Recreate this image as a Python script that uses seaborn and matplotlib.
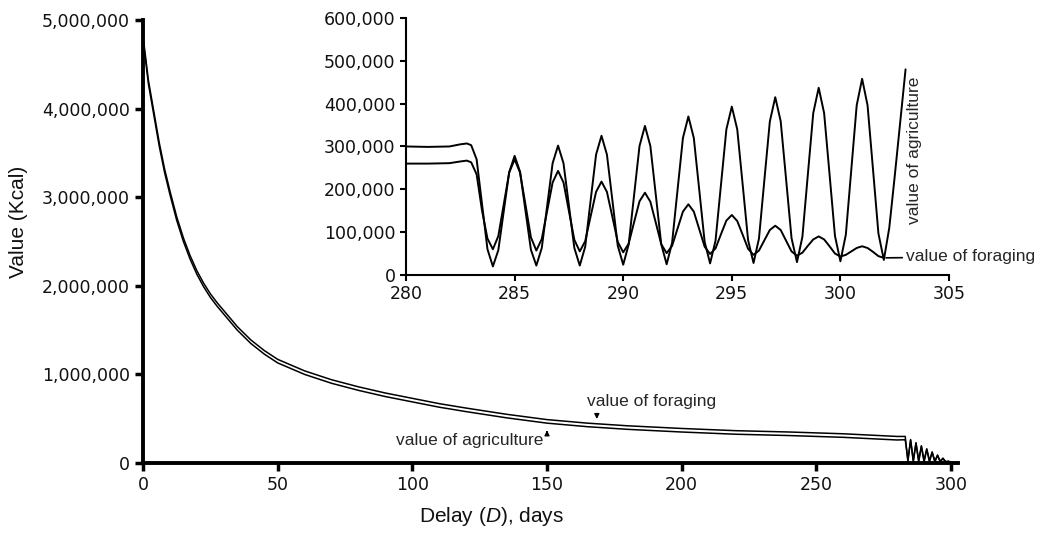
import numpy as np
import matplotlib
matplotlib.use("Agg")
import matplotlib.pyplot as plt
from matplotlib.ticker import FuncFormatter
import seaborn as sns

# main panel: delay (days) vs value (Kcal)
main_days = [0, 2, 4, 6, 8, 10, 12.5, 15, 17.5, 20, 22.5, 25, 27.5, 30, 35, 40, 45, 50,
             60, 70, 80, 90, 100, 110, 120, 135, 150, 165, 180, 200, 220, 240, 260, 280,
             282, 283, 284, 285, 286, 287, 288, 289, 290, 291, 292, 293, 294, 295, 296,
             297, 298, 299, 300]
agri_main = [4820, 4320, 3970, 3620, 3320, 3070, 2780, 2540, 2340, 2170, 2030, 1910, 1810,
             1720, 1540, 1390, 1270, 1170, 1040, 940, 860, 790, 730, 670, 620, 550, 490,
             450, 420, 390, 365, 350, 330, 300, 300, 300,
             15, 265, 12, 230, 10, 195, 10, 160, 10, 125, 8, 90, 8, 55, 6, 20, 5]
forage_main = [4780, 4280, 3930, 3580, 3280, 3030, 2740, 2500, 2300, 2130, 1990, 1870, 1770,
               1680, 1500, 1350, 1230, 1130, 1000, 900, 820, 750, 690, 630, 580, 510, 450,
               410, 380, 350, 325, 310, 290, 260, 262, 262,
               40, 255, 35, 222, 32, 188, 30, 155, 28, 120, 25, 86, 22, 52, 18, 20, 10]
agri_main = [v * 1000 for v in agri_main]
forage_main = [v * 1000 for v in forage_main]

# inset: close-up of days 280-303
inset_flat_days = [280, 281, 282, 282.5, 282.8]
agri_flat = [300, 299, 300, 305, 307]
forage_flat = [260, 260, 261, 265, 267]
agri_osc = [303, 270, 165, 60,
            20, 58, 149, 240, 278, 241, 150, 59,
            22, 63, 162, 261, 302, 261, 162, 63,
            22, 66, 174, 281, 325, 281, 175, 68,
            24, 71, 186, 301, 348, 301, 187, 72,
            25, 75, 198, 320, 370, 320, 199, 77,
            27, 80, 210, 340, 393, 340, 211, 81,
            28, 85, 222, 358, 415, 359, 223, 86,
            30, 89, 234, 378, 437, 378, 235, 91,
            32, 94, 245, 396, 458, 396, 247, 97,
            35, 110, 230, 355, 480]
forage_osc = [263, 235, 150, 85,
              60, 91, 165, 239, 270, 239, 164, 88,
              57, 84, 150, 216, 243, 216, 149, 82,
              55, 79, 137, 194, 218, 194, 136, 77,
              53, 73, 123, 172, 192, 171, 122, 72,
              51, 68, 108, 148, 165, 148, 107, 66,
              49, 62, 95, 127, 140, 126, 94, 61,
              47, 57, 81, 105, 115, 105, 80, 55,
              45, 52, 68, 83, 90, 83, 67, 50,
              43, 47, 55, 63, 67, 63, 54, 44,
              40]
agri_days = inset_flat_days + list(283 + 0.25 * np.arange(len(agri_osc)))
forage_days = inset_flat_days + list(283 + 0.25 * np.arange(len(forage_osc)))
agri_inset = [v * 1000 for v in agri_flat + agri_osc]
forage_inset = [v * 1000 for v in forage_flat + forage_osc]

sns.set_style("ticks")
plt.rcParams['font.family'] = ['DejaVu Sans']
plt.rcParams['mathtext.fontset'] = 'custom'
plt.rcParams['mathtext.rm'] = 'Liberation Sans'
plt.rcParams['mathtext.it'] = 'Liberation Sans:italic'
lab = 'Liberation Sans'
comma = FuncFormatter(lambda v, p: f'{int(round(v)):,}')

fig = plt.figure(figsize=(10.47, 5.33), dpi=100)
ax = fig.add_axes([0.1366, 0.1313, 0.7784, 0.8311])
sns.lineplot(x=main_days, y=agri_main, ax=ax, color='black', lw=1.1, estimator=None, sort=False)
sns.lineplot(x=main_days, y=forage_main, ax=ax, color='black', lw=1.1, estimator=None, sort=False)
ax.set_xlim(0, 302.6)
ax.set_ylim(0, 5000000)
ax.set_xticks(np.arange(0, 301, 50))
ax.set_yticks(np.arange(0, 5000001, 1000000))
ax.yaxis.set_major_formatter(comma)
ax.tick_params(labelsize=12.5, width=2.5, length=6, color='black', labelcolor='#111111')
for s in ['top', 'right']:
    ax.spines[s].set_visible(False)
for s in ['left', 'bottom']:
    ax.spines[s].set_linewidth(2.8)
    ax.spines[s].set_color('black')
ax.set_xlabel('Delay ($D$), days', fontsize=15, family=lab, color='#111111')
ax.set_ylabel('Value (Kcal)', fontsize=15, family=lab, color='#111111')
ax.xaxis.set_label_coords(0.428, -0.095)
ax.yaxis.set_label_coords(-0.141, 0.544)

ax.text(165, 690000, 'value of foraging', fontsize=12.5, family=lab, va='center')
ax.annotate('', xy=(168.5, 465000), xytext=(168.5, 570000),
            arrowprops=dict(arrowstyle='-|>', color='black', lw=1, mutation_scale=7))
ax.text(94, 250000, 'value of agriculture', fontsize=12.5, family=lab, va='center')
ax.annotate('', xy=(150, 400000), xytext=(150, 305000),
            arrowprops=dict(arrowstyle='-|>', color='black', lw=1, mutation_scale=7))

# inset
ins = fig.add_axes([0.3878, 0.4841, 0.5186, 0.4822])
ins.patch.set_alpha(0)
sns.lineplot(x=agri_days, y=agri_inset, ax=ins, color='black', lw=1.4, estimator=None,
             sort=False, solid_joinstyle='round')
sns.lineplot(x=forage_days, y=forage_inset, ax=ins, color='black', lw=1.4, estimator=None,
             sort=False, solid_joinstyle='round')
ins.set_xlim(280, 305)
ins.set_ylim(0, 600000)
ins.set_xticks(np.arange(280, 306, 5))
ins.set_yticks(np.arange(0, 600001, 100000))
ins.yaxis.set_major_formatter(comma)
ins.tick_params(labelsize=12.5, width=1.5, length=4, color='black', labelcolor='#111111')
for s in ['top', 'right']:
    ins.spines[s].set_visible(False)
for s in ['left', 'bottom']:
    ins.spines[s].set_linewidth(1.5)
    ins.spines[s].set_color('black')
ins.set_xlabel('')
ins.set_ylabel('')
ins.text(303.4, 290000, 'value of agriculture', rotation=90, fontsize=12.5, family=lab,
         ha='center', va='center', clip_on=False)
ins.annotate('value of foraging', xy=(302.1, 40000), xytext=(303.0, 42000),
             fontsize=12.5, family=lab, va='center', annotation_clip=False,
             arrowprops=dict(arrowstyle='-', color='black', lw=1.2, shrinkA=0, shrinkB=0))

fig.savefig('out.png', dpi=100)
